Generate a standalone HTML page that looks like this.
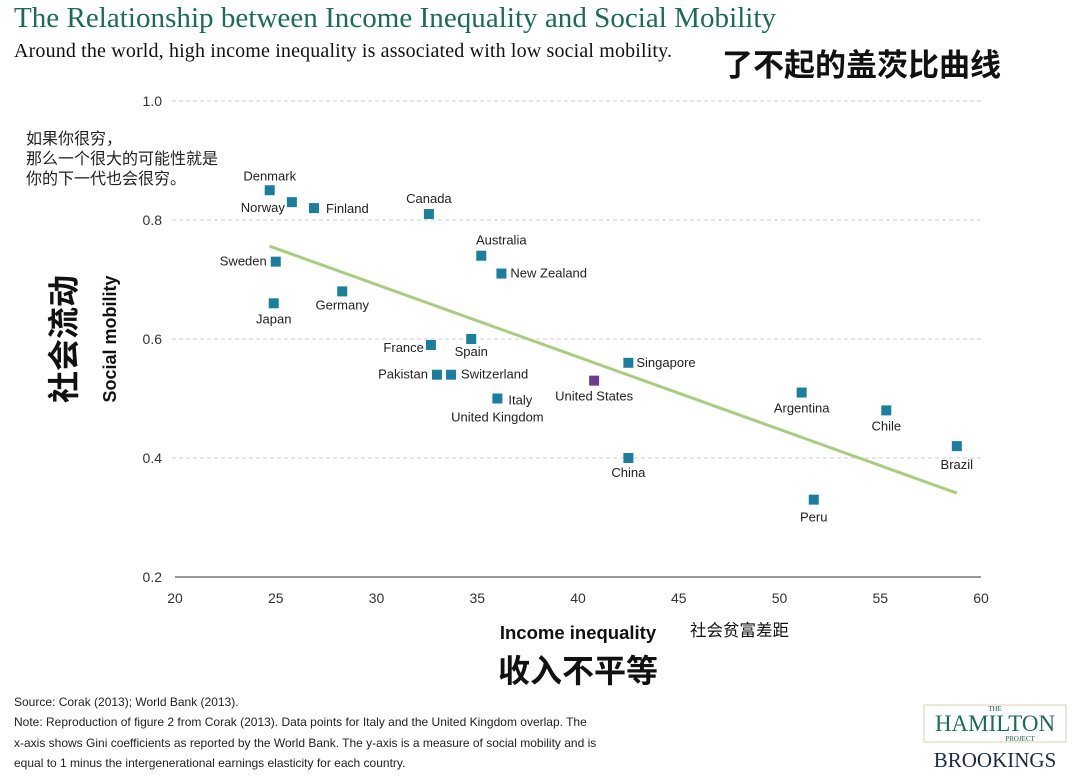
<!DOCTYPE html>
<html><head><meta charset="utf-8">
<style>
body{margin:0;background:#fff;width:1080px;height:783px;overflow:hidden}
svg{display:block}
.sans{font-family:"Liberation Sans","Noto Sans CJK SC",sans-serif}
.serif{font-family:"Liberation Serif","Noto Serif CJK SC",serif}
</style></head>
<body>
<svg id="chart" width="1080" height="783">
<text x="14" y="27" class="serif" font-size="29" fill="#1b6b58" textLength="762">The Relationship between Income Inequality and Social Mobility</text>
<text x="14" y="57" class="serif" font-size="20" fill="#111" textLength="658">Around the world, high income inequality is associated with low social mobility.</text>
<text x="722" y="76" class="sans" font-size="31" font-weight="bold" fill="#111">了不起的盖茨比曲线</text>
<g class="sans" font-size="16" fill="#222">
<text x="26" y="144">如果你很穷，</text>
<text x="26" y="164">那么一个很大的可能性就是</text>
<text x="26" y="184">你的下一代也会很穷。</text>
</g>
<g id="grid"></g><g id="axes"></g><g id="trend"></g><g id="points"></g>
<text transform="translate(116,339) rotate(-90)" text-anchor="middle" class="sans" font-size="18" font-weight="bold" fill="#111">Social mobility</text>
<text transform="translate(75,339) rotate(-90)" text-anchor="middle" class="sans" font-size="32" font-weight="bold" fill="#111">社会流动</text>
<text x="578" y="639" text-anchor="middle" class="sans" font-size="18.5" font-weight="bold" fill="#111">Income inequality</text>
<text x="690" y="636" class="sans" font-size="16.5" fill="#111">社会贫富差距</text>
<text x="578" y="682" text-anchor="middle" class="sans" font-size="32" font-weight="bold" fill="#111">收入不平等</text>
<g class="sans" font-size="12" fill="#222">
<text x="14" y="706">Source: Corak (2013); World Bank (2013).</text>
<text x="14" y="726">Note: Reproduction of figure 2 from Corak (2013). Data points for Italy and the United Kingdom overlap. The</text>
<text x="14" y="747">x-axis shows Gini coefficients as reported by the World Bank. The y-axis is a measure of social mobility and is</text>
<text x="14" y="767">equal to 1 minus the intergenerational earnings elasticity for each country.</text>
</g>
<g>
<rect x="924" y="705" width="142" height="37" fill="none" stroke="#d8d3b8" stroke-width="1"/>
<text x="995" y="711" text-anchor="middle" class="serif" font-size="7" fill="#1b6b58">THE</text>
<text x="995" y="731" text-anchor="middle" class="serif" font-size="23" fill="#1b6b58">HAMILTON</text>
<text x="1020" y="741" text-anchor="middle" class="serif" font-size="7" fill="#1b6b58">PROJECT</text>
<text x="995" y="767" text-anchor="middle" class="serif" font-size="21" fill="#1a2a4a">BROOKINGS</text>
</g>
</svg>
<script>
const countries=["Denmark","Norway","Finland","Canada","Australia","New Zealand","Sweden","Japan","Germany","France","Spain","Pakistan","Switzerland","Italy","United States","Singapore","China","Argentina","Chile","Brazil","Peru"];
const gini=[24.7,25.8,26.9,32.6,35.2,36.2,25.0,24.9,28.3,32.7,34.7,33.0,33.7,36.0,40.8,42.5,42.5,51.1,55.3,58.8,51.7];
const mobility=[0.85,0.83,0.82,0.81,0.74,0.71,0.73,0.66,0.68,0.59,0.60,0.54,0.54,0.50,0.53,0.56,0.40,0.51,0.48,0.42,0.33];
const trendX=[24.7,58.8];
const trendY=[0.756,0.341];
const xTicks=[20,25,30,35,40,45,50,55,60];
const yTicks=[0.2,0.4,0.6,0.8,1.0];
// label layout (dx, dy, anchor) per country
const lab={"Denmark":[0,-10,"middle"],"Norway":[-7,10,"end"],"Finland":[12,5,"start"],"Canada":[0,-11,"middle"],"Australia":[20,-11,"middle"],"New Zealand":[9,4,"start"],"Sweden":[-9,4,"end"],"Japan":[0,20,"middle"],"Germany":[0,18,"middle"],"France":[-7,7,"end"],"Spain":[0,17,"middle"],"Pakistan":[-9,4,"end"],"Switzerland":[10,4,"start"],"Italy":[11,6,"start"],"United States":[0,20,"middle"],"Singapore":[8,4,"start"],"China":[0,19,"middle"],"Argentina":[0,20,"middle"],"Chile":[0,20,"middle"],"Brazil":[0,23,"middle"],"Peru":[0,22,"middle"]};
const X=v=>175+(v-20)*(806/40);
const Y=v=>577-(v-0.2)*595;
const NS="http://www.w3.org/2000/svg";
function mk(t,p,a){const e=document.createElementNS(NS,t);for(const k in a)e.setAttribute(k,a[k]);p.appendChild(e);return e;}
const grid=document.getElementById('grid'),axes=document.getElementById('axes'),pts=document.getElementById('points');
yTicks.forEach(t=>{
 if(t>0.2){const l=mk('line',grid,{x1:172,x2:981,y1:Y(t),y2:Y(t),stroke:'#cfcfcf','stroke-dasharray':'4,3','stroke-width':1});
 
 }
 const tx=mk('text',axes,{x:162,y:Y(t)+5,'text-anchor':'end','font-size':14,fill:'#333',class:'sans'});tx.textContent=t.toFixed(1);
 
 
});
const base=mk('line',axes,{x1:175,x2:981,y1:577,y2:577,stroke:'#999','stroke-width':2});


xTicks.forEach(t=>{const tx=mk('text',axes,{x:X(t),y:603,'text-anchor':'middle','font-size':14,fill:'#333',class:'sans'});tx.textContent=t;
 
 });
const tl=mk('line',document.getElementById('trend'),{x1:X(trendX[0]),y1:Y(trendY[0]),x2:X(trendX[1]),y2:Y(trendY[1]),stroke:'#a8cc80','stroke-width':3});


countries.forEach((c,i)=>{
 const cx=X(gini[i]),cy=Y(mobility[i]);
 const r=mk('rect',pts,{x:cx-5,y:cy-5,width:10,height:10,fill:c==="United States"?'#6a3d8f':'#1a7e9c'});
 
 
 const L=lab[c];
 const t=mk('text',pts,{x:cx+L[0],y:cy+L[1],'text-anchor':L[2],'font-size':13,fill:'#222',class:'sans'});t.textContent=c;
 
 
 if(c==="Italy"){const u=mk('text',pts,{x:cx,y:cy+23,'text-anchor':'middle','font-size':13,fill:'#222',class:'sans'});u.textContent="United Kingdom";
 
 }
});
</script>
</body></html>
